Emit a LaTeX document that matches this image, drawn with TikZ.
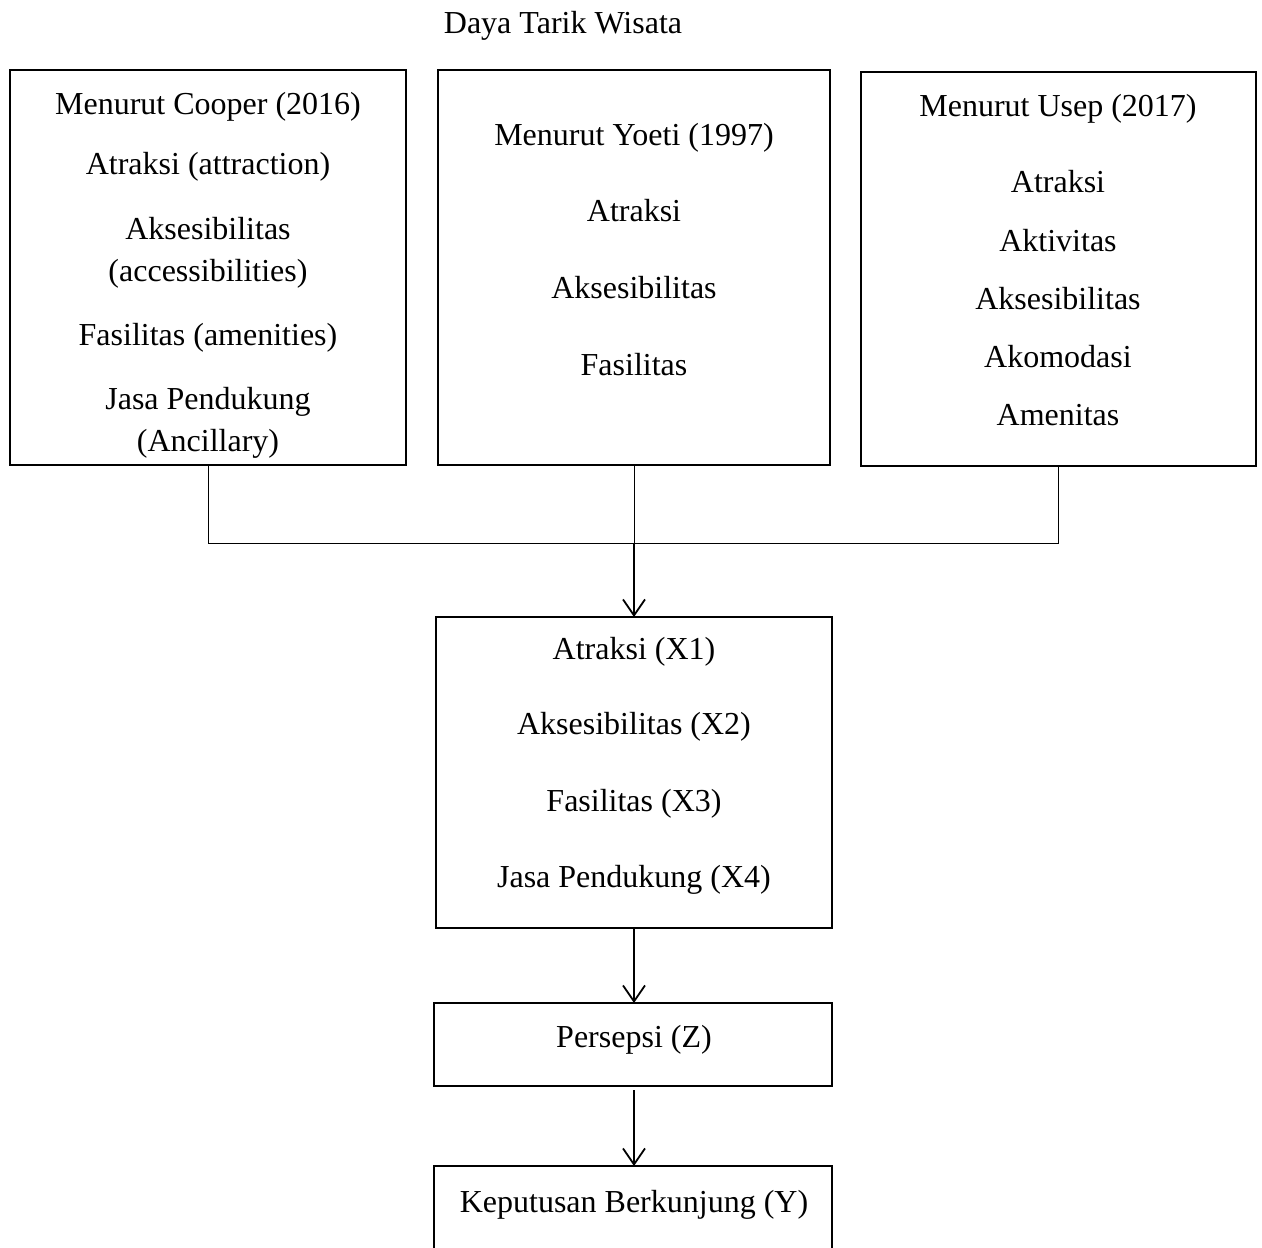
\documentclass[tikz,border=0pt]{standalone}
\usepackage{fontspec}
\setmainfont{Liberation Serif}
\usetikzlibrary{arrows.meta}
\begin{document}
\begin{tikzpicture}[x=1pt,y=-1pt,
  box/.style={draw=black,line width=2.5pt},
  txt/.style={anchor=base,inner sep=0pt,font=\fontsize{32}{36}\selectfont},
  link/.style={draw=black,line width=1pt},
  arr/.style={draw=black,line width=1.8pt,-{Straight Barb[length=16pt,width=22pt,line width=1.8pt]}}]
\useasboundingbox (0,0) rectangle (1262,1248);
\clip (0,0) rectangle (1262,1248);
\fill[white] (0,0) rectangle (1262,1248);
\node[txt] (title) at (563,33) {Daya Tarik Wisata};
% boxes
\draw[box] (10,70) rectangle (406,465);
\coordinate (b1) at (208,465);
\draw[box] (438,70) rectangle (830,465);
\coordinate (b2) at (634,465);
\draw[box] (861,72) rectangle (1256,466);
\coordinate (b3) at (1058,466);
\draw[box] (436,617) rectangle (832,928);
\coordinate (b4t) at (634,617);
\coordinate (b4b) at (634,928);
\draw[box] (434,1003) rectangle (832,1086);
\coordinate (b5t) at (634,1003);
\coordinate (b5b) at (634,1090);
\draw[box] (434,1166) rectangle (832,1300);
\coordinate (b6t) at (634,1166);
% box 1 text
\node[txt] (c1) at (208,114) {Menurut Cooper (2016)};
\node[txt] (c2) at (208,174) {Atraksi (attraction)};
\node[txt] (c3) at (208,239) {Aksesibilitas};
\node[txt] (c4) at (208,281) {(accessibilities)};
\node[txt] (c5) at (208,345) {Fasilitas (amenities)};
\node[txt] (c6) at (208,409) {Jasa Pendukung};
\node[txt] (c7) at (208,451) {(Ancillary)};
% box 2 text
\node[txt] (y1) at (634,145) {Menurut Yoeti (1997)};
\node[txt] (y2) at (634,221) {Atraksi};
\node[txt] (y3) at (634,298) {Aksesibilitas};
\node[txt] (y4) at (634,375) {Fasilitas};
% box 3 text
\node[txt] (u1) at (1058,116) {Menurut Usep (2017)};
\node[txt] (u2) at (1058,192) {Atraksi};
\node[txt] (u3) at (1058,251) {Aktivitas};
\node[txt] (u4) at (1058,309) {Aksesibilitas};
\node[txt] (u5) at (1058,367) {Akomodasi};
\node[txt] (u6) at (1058,425) {Amenitas};
% box 4 text
\node[txt] (x1) at (634,659) {Atraksi (X1)};
\node[txt] (x2) at (634,734) {Aksesibilitas (X2)};
\node[txt] (x3) at (634,811) {Fasilitas (X3)};
\node[txt] (x4) at (634,887) {Jasa Pendukung (X4)};
% box 5, 6 text
\node[txt] (z) at (634,1047) {Persepsi (Z)};
\node[txt] (yy) at (634,1212) {Keputusan Berkunjung (Y)};
% connectors
\coordinate (j1) at (208,543);
\coordinate (j2) at (634,543);
\coordinate (j3) at (1058,543);
\draw[link] (b1) -- (j1) -- (j3) -- (b3);
\draw[link] (b2) -- (j2);
\draw[arr] (j2) -- (b4t);
\draw[arr] (b4b) -- (b5t);
\draw[arr] (b5b) -- (b6t);
\end{tikzpicture}
\end{document}
